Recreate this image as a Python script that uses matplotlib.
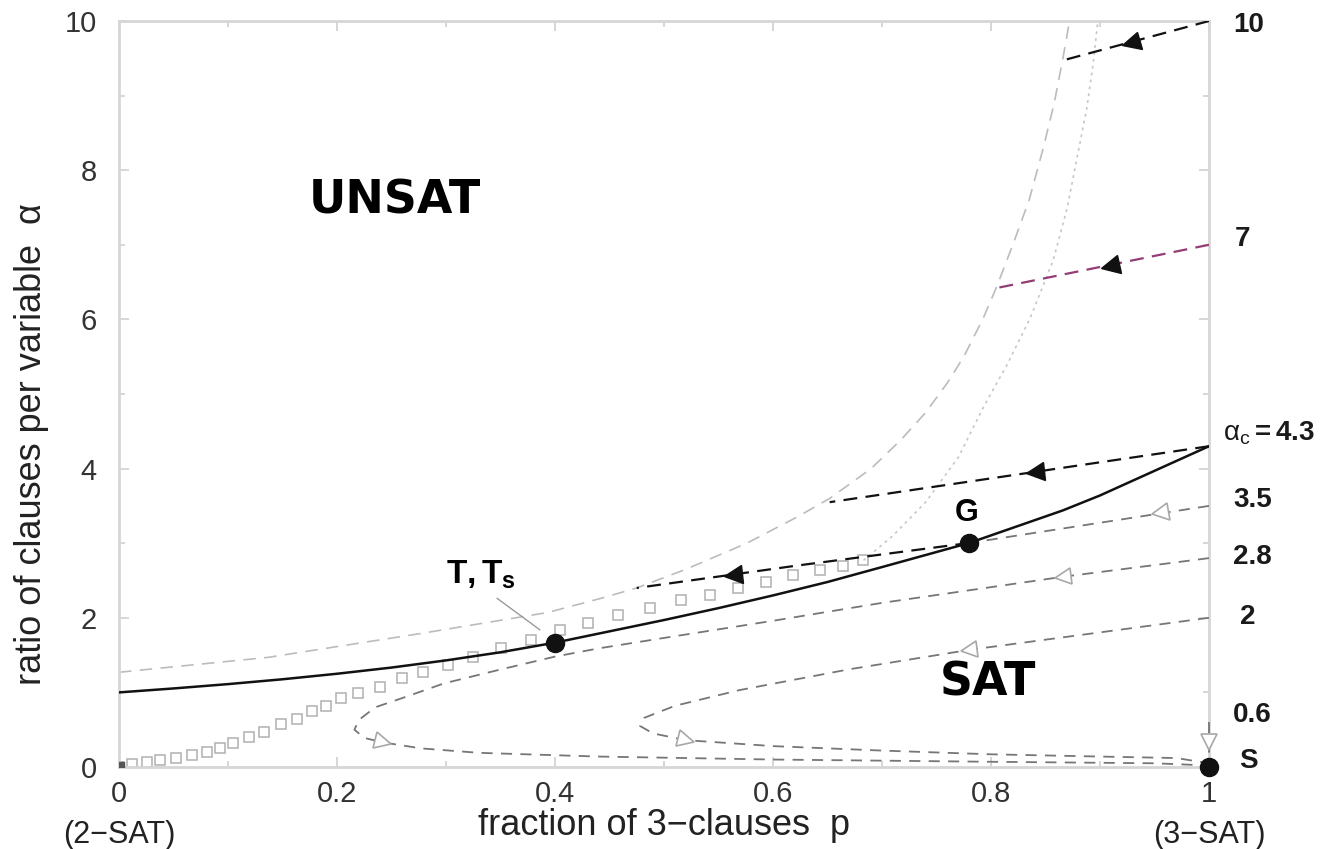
import numpy as np
import matplotlib
matplotlib.use('Agg')
import matplotlib.pyplot as plt
from matplotlib.markers import MarkerStyle
from matplotlib.transforms import Affine2D

plt.rcParams['font.family'] = ['Liberation Sans', 'DejaVu Sans']
plt.rcParams['mathtext.fontset'] = 'custom'
plt.rcParams['mathtext.rm'] = 'Liberation Sans'
plt.rcParams['mathtext.it'] = 'Liberation Sans:italic'
plt.rcParams['mathtext.bf'] = 'Liberation Sans:bold'
plt.rcParams['lines.scale_dashes'] = False

# critical line alpha_c(p) separating SAT / UNSAT
p_crit = [0.0, 0.05, 0.1, 0.15, 0.2, 0.25, 0.3, 0.35, 0.4, 0.5, 0.55, 0.6, 0.65, 0.7,
          0.78, 0.866, 0.9, 0.95, 1.0]
alpha_crit = [1.0, 1.053, 1.111, 1.176, 1.25, 1.333, 1.429, 1.538, 1.667, 1.97, 2.13,
              2.30, 2.48, 2.68, 3.003, 3.44, 3.64, 3.97, 4.3]

# numerical points (open squares)
p_sq = [0.0, 0.012, 0.026, 0.038, 0.052, 0.067, 0.081, 0.093, 0.105, 0.119, 0.133, 0.149,
        0.163, 0.177, 0.190, 0.204, 0.219, 0.239, 0.260, 0.279, 0.302, 0.325, 0.350,
        0.378, 0.405, 0.430, 0.458, 0.487, 0.516, 0.542, 0.568, 0.594, 0.618, 0.643,
        0.664, 0.683]
alpha_sq = [0.0, 0.04, 0.07, 0.09, 0.12, 0.16, 0.20, 0.25, 0.32, 0.40, 0.47, 0.57,
            0.64, 0.75, 0.82, 0.92, 0.99, 1.07, 1.19, 1.27, 1.37, 1.47, 1.59,
            1.70, 1.83, 1.93, 2.04, 2.13, 2.24, 2.30, 2.40, 2.48, 2.57, 2.64,
            2.70, 2.77]

# halting line where the unsat trajectories stop (light dashed)
p_halt = [0.0, 0.137, 0.277, 0.393, 0.442, 0.475, 0.52, 0.576, 0.622, 0.652, 0.69, 0.717,
          0.74, 0.76, 0.775, 0.793, 0.805, 0.82, 0.835, 0.848, 0.858, 0.866, 0.872]
alpha_halt = [1.27, 1.47, 1.79, 2.07, 2.26, 2.40, 2.65, 3.0, 3.35, 3.6, 4.0, 4.38,
              4.75, 5.15, 5.5, 6.02, 6.43, 7.0, 7.6, 8.3, 8.9, 9.5, 10.0]

# second light curve (dotted)
p_dot = [0.683, 0.71, 0.74, 0.77, 0.794, 0.815, 0.836, 0.857, 0.87, 0.879, 0.888, 0.894, 0.898]
alpha_dot = [2.77, 3.1, 3.55, 4.15, 4.85, 5.4, 6.02, 6.79, 7.5, 8.17, 8.84, 9.46, 10.0]

# search trajectories, each starting from 3-SAT (p = 1) at alpha0
p_t10 = [1.0, 0.868]
a_t10 = [10.0, 9.48]
p_t7 = [1.0, 0.805]
a_t7 = [7.0, 6.42]
p_t43 = [1.0, 0.652]
a_t43 = [4.3, 3.55]
p_t35 = [1.0, 0.78]
a_t35 = [3.5, 3.003]
p_g = [0.78, 0.622, 0.475]
a_g = [3.003, 2.70, 2.40]
p_t28 = [1.0, 0.866, 0.7, 0.6, 0.5, 0.44, 0.40, 0.348, 0.298, 0.263, 0.235, 0.22, 0.216,
         0.225, 0.242, 0.277, 0.33, 0.44, 0.6, 0.8, 0.95, 1.0]
a_t28 = [2.8, 2.55, 2.2, 1.96, 1.73, 1.59, 1.48, 1.30, 1.12, 0.94, 0.80, 0.63, 0.50,
         0.39, 0.33, 0.25, 0.19, 0.14, 0.10, 0.07, 0.05, 0.02]
p_t2 = [1.0, 0.78, 0.67, 0.569, 0.51, 0.482, 0.478, 0.49, 0.52, 0.6, 0.7, 0.8, 0.9, 0.97, 1.0]
a_t2 = [2.0, 1.57, 1.31, 1.03, 0.82, 0.66, 0.55, 0.45, 0.36, 0.28, 0.22, 0.17, 0.14, 0.12, 0.05]
p_t06 = [1.0, 1.0]
a_t06 = [0.6, 0.0]

# special points T, G, S
p_pts = [0.4, 0.78, 1.0]
a_pts = [1.667, 3.003, 0.0]

# right-hand labels of the starting ratios
start_labels = ['10', '7', r'$\mathrm{\alpha_c}$$\mathbf{=4.3}$', '3.5', '2.8', '2', '0.6', 'S']
start_label_p = [1.022, 1.024, 1.013, 1.022, 1.022, 1.028, 1.022, 1.028]
start_label_a = [9.95, 7.08, 4.47, 3.58, 2.81, 2.01, 0.70, 0.08]

x_ticks = [0, 0.2, 0.4, 0.6, 0.8, 1]
x_ticklabels = ['0', '0.2', '0.4', '0.6', '0.8', '1']
y_ticks = [0, 2, 4, 6, 8, 10]

W, H = 1326, 849
fig = plt.figure(figsize=(W / 100, H / 100), dpi=100)
ax = fig.add_axes([119 / W, 1 - 767 / H, 1090 / W, 746 / H])
ax.set_xlim(0, 1)
ax.set_ylim(0, 10)

BLACK = '#111111'
GRAY = '#767676'
LIGHT = '#bcbcbc'


def travel_angle(ps, als, px, pa):
    """Screen angle of the trajectory segment closest to (px, pa)."""
    pts = ax.transData.transform(np.column_stack([ps, als]))
    q = ax.transData.transform((px, pa))
    best, ang = None, 0.0
    for i in range(len(pts) - 1):
        a, b = pts[i], pts[i + 1]
        d = b - a
        t = np.clip(np.dot(q - a, d) / max(np.dot(d, d), 1e-9), 0, 1)
        dist = np.linalg.norm(q - (a + t * d))
        if best is None or dist < best:
            best, ang = dist, np.degrees(np.arctan2(d[1], d[0]))
    return ang


def arrow(ps, als, px, pa, filled=True):
    ang = travel_angle(ps, als, px, pa)
    m = MarkerStyle('>', transform=Affine2D().rotate_deg(ang))
    if filled:
        ax.plot([px], [pa], marker=m, ms=13, color=BLACK, zorder=6, clip_on=False)
    else:
        ax.plot([px], [pa], marker=m, ms=12, mfc='white', mec='#a8a8a8',
                mew=1.2, zorder=6, clip_on=False)


# light background curves
ax.plot(p_halt, alpha_halt, color=LIGHT, lw=1.2, dashes=(9, 6), zorder=1)
ax.plot(p_dot, alpha_dot, color='#c6c6c6', lw=1.2, dashes=(2, 3), zorder=1)

# open squares
ax.plot(p_sq, alpha_sq, ls='none', marker='s', ms=7.5, mfc='none', mec='#b0b0b0',
        mew=1.1, zorder=2)
ax.plot([p_sq[0]], [alpha_sq[0]], ls='none', marker='s', ms=7, color='#555555', zorder=3)

# threshold line
ax.plot(p_crit, alpha_crit, color=BLACK, lw=1.8, zorder=4)

# trajectories in the UNSAT region
ax.plot(p_t10, a_t10, color=BLACK, lw=1.6, dashes=(10, 6), zorder=5)
ax.plot(p_t7, a_t7, color='#943c74', lw=1.6, dashes=(10, 6), zorder=5)
ax.plot(p_t43, a_t43, color=BLACK, lw=1.6, dashes=(10, 6), zorder=5)
ax.plot(p_g, a_g, color=BLACK, lw=1.6, dashes=(10, 6), zorder=5)
arrow(p_t10, a_t10, 0.928, 9.71)
arrow(p_t7, a_t7, 0.909, 6.72)
arrow(p_t43, a_t43, 0.84, 3.96)
arrow(p_g, a_g, 0.563, 2.58)

# trajectories in the SAT region
ax.plot(p_t35, a_t35, color=GRAY, lw=1.3, dashes=(8, 6), zorder=3)
ax.plot(p_t28, a_t28, color=GRAY, lw=1.3, dashes=(8, 6), zorder=3)
ax.plot(p_t2, a_t2, color=GRAY, lw=1.3, dashes=(8, 6), zorder=3)
ax.plot(p_t06, a_t06, color=GRAY, lw=1.3, dashes=(8, 6), zorder=3, clip_on=False)
arrow(p_t35, a_t35, 0.955, 3.40, filled=False)
arrow(p_t28, a_t28, 0.866, 2.55, filled=False)
arrow(p_t28, a_t28, 0.242, 0.33, filled=False)
arrow(p_t2, a_t2, 0.78, 1.57, filled=False)
arrow(p_t2, a_t2, 0.52, 0.36, filled=False)
arrow(p_t06, a_t06, 1.0, 0.34, filled=False)

# T, G, S
ax.plot(p_pts, a_pts, ls='none', marker='o', ms=13, color=BLACK, zorder=7, clip_on=False)
ax.plot([0.347, 0.386], [2.26, 1.84], color='#9a9a9a', lw=1.0, zorder=4)
ax.text(0.332, 2.57, r'$\mathbf{T,T_s}$', fontsize=24, ha='center', va='center')
ax.text(0.778, 3.41, 'G', fontsize=22, fontweight='bold', ha='center', va='center')

# phase labels
ax.text(0.253, 7.59, 'UNSAT', family='DejaVu Sans', fontsize=33, fontweight='bold',
        ha='center', va='center')
ax.text(0.797, 1.12, 'SAT', family='DejaVu Sans', fontsize=33, fontweight='bold',
        ha='center', va='center')

for s, xp, ya in zip(start_labels, start_label_p, start_label_a):
    ax.text(xp, ya, s, fontsize=20, fontweight='bold', ha='left', va='center',
            color='#1a1a1a', clip_on=False)

# axes styling
for sp in ax.spines.values():
    sp.set_color('#d6d6d6')
    sp.set_linewidth(2)
ax.set_xticks(x_ticks)
ax.set_xticklabels(x_ticklabels)
ax.set_yticks(y_ticks)
ax.set_xticks(np.arange(0, 1.01, 0.1), minor=True)
ax.set_yticks(np.arange(0, 10.1, 1), minor=True)
ax.tick_params(which='both', direction='in', top=True, right=True, color='#cfcfcf',
               width=1.2, labelsize=21, labelcolor='#333333')
ax.tick_params(which='major', length=7)
ax.tick_params(which='minor', length=4)
ax.tick_params(axis='x', pad=9)
ax.tick_params(axis='y', pad=16)

ax.set_xlabel('fraction of 3\u2212clauses  p', fontsize=26, color='#222222')
ax.xaxis.set_label_coords(0.5, -0.078)
ax.xaxis.label.set_va('center')
ax.set_ylabel('ratio of clauses per variable  \u03b1', fontsize=26, color='#222222')
ax.yaxis.set_label_coords(-0.080, 0.433)
ax.yaxis.label.set_va('center')

ax.text(0.0, -0.91, '(2\u2212SAT)', fontsize=22, color='#222222', ha='center', va='center')
ax.text(1.0, -0.91, '(3\u2212SAT)', fontsize=22, color='#222222', ha='center', va='center')

fig.savefig('out.png', dpi=100)
